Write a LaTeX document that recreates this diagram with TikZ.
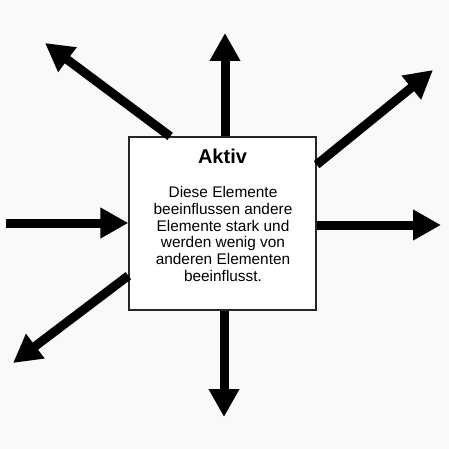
\documentclass[tikz,border=0pt]{standalone}
\usepackage{fontspec}
\setmainfont{Liberation Sans}
\usepackage{xcolor}
\usepackage{tikz}
\usetikzlibrary{arrows.meta}
\definecolor{BoxGray}{rgb}{0.15,0.15,0.15}
\definecolor{PaperGray}{rgb}{0.975,0.975,0.975}

\begin{document}
\begin{tikzpicture}[x=1pt, y=-1pt,
		pfeil/.style={line width=9pt, -{Triangle[length=28pt, width=29pt]}},
		kasten/.style={draw=BoxGray, line width=1.3pt, fill=white, minimum width=187pt, minimum height=173pt, inner sep=0pt},
		titel/.style={font=\bfseries\fontsize{20}{22}\selectfont},
		rumpf/.style={align=center, font=\fontsize{15.4}{16.7}\selectfont}]
		\fill [PaperGray] (0, 0) rectangle (449, 449);
		\useasboundingbox (0, 0) rectangle (449, 449);
		
		\node [kasten] (aktiv) at (222.5, 223.5) {};
		
		% freie Enden der Pfeile
		\coordinate (nw) at (45, 43);
		\coordinate (n) at (225, 33);
		\coordinate (no) at (433, 70);
		\coordinate (o) at (441, 225);
		\coordinate (w) at (6, 223);
		\coordinate (sw) at (13, 363);
		\coordinate (s) at (224, 417);
		
		\draw [pfeil] (aktiv.121) -- (nw);
		\draw [pfeil] (aktiv.north -| n) -- (n);
		\draw [pfeil] (aktiv.32.5) -- (no);
		\draw [pfeil] (aktiv.east |- o) -- (o);
		\draw [pfeil] (w) -- (aktiv.west |- w);
		\draw [pfeil] (aktiv.209.8) -- (sw);
		\draw [pfeil] (aktiv.south -| s) -- (s);
		
		\node [titel] (kopf) at (222.5, 156) {Aktiv};
		\node [rumpf] (text) at (223, 234) {Diese Elemente\\beeinflussen andere\\Elemente stark und\\werden wenig von\\anderen Elementen\\beeinflusst.};
	\end{tikzpicture}
\end{document}
